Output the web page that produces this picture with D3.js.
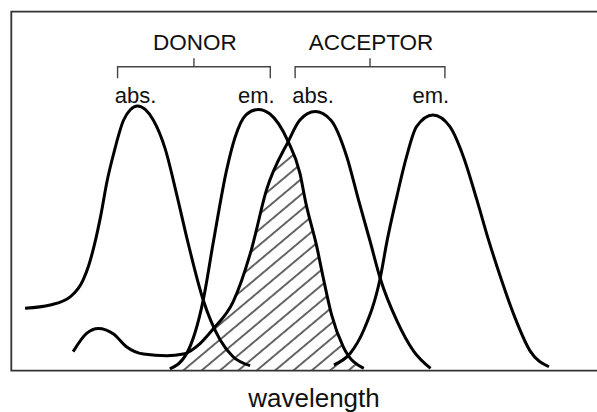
<!DOCTYPE html>
<html lang="en">
<head>
    <meta charset="utf-8">
    <title>FRET spectral overlap</title>
    <script src="https://d3js.org/d3.v7.min.js"></script>
    <style>
        body {
            margin: 0;
            background: #ffffff;
        }
        text {
            font-family: "Liberation Sans", Arial, sans-serif;
            fill: #111111;
        }
        .spectrum {
            fill: none;
            stroke: #000000;
            stroke-width: 3px;
        }
        .frame {
            stroke: #333333;
            stroke-width: 1.8px;
        }
        .bracket {
            fill: none;
            stroke: #444444;
            stroke-width: 1.4px;
        }
    </style>
</head>
<body>
    <svg id="chart" width="597" height="412"></svg>

    <script>
        // spectra: [wavelength (a.u., 0-100), relative intensity]
        const donorAbs = [
            [2.4, 0.229], [6.7, 0.241], [10.1, 0.271], [12.3, 0.333], [13.3, 0.39],
            [14.3, 0.47], [15.3, 0.57], [16.4, 0.70], [17.5, 0.80], [19.2, 0.925],
            [20.4, 0.965], [21.6, 0.978], [22.9, 0.965], [24.3, 0.925], [26.3, 0.820],
            [28.3, 0.648], [30.1, 0.481], [32.8, 0.259], [35.7, 0.111], [37.9, 0.049],
            [40.8, 0.016]
        ];
        const donorEm = [
            [27.1, 0.004], [30.0, 0.062], [32.8, 0.259], [34.5, 0.470], [36.8, 0.741],
            [38.2, 0.859], [40.1, 0.945], [42.2, 0.965], [44.2, 0.948], [47.3, 0.846],
            [49.3, 0.729], [50.3, 0.620], [52.2, 0.455], [53.3, 0.340], [54.7, 0.205],
            [56.7, 0.086], [60.2, 0.006]
        ];
        const acceptorAbs = [
            [10.6, 0.068], [12.9, 0.136], [14.9, 0.154], [17.5, 0.133], [19.7, 0.086],
            [22.6, 0.059], [26.6, 0.053], [29.4, 0.059], [32.3, 0.099], [34.5, 0.152],
            [37.9, 0.252], [41.0, 0.444], [43.6, 0.667], [47.3, 0.846], [49.3, 0.926],
            [51.9, 0.957], [54.6, 0.925], [57.3, 0.790], [59.3, 0.630], [61.3, 0.475],
            [63.0, 0.340], [65.9, 0.180], [68.7, 0.070], [71.6, 0.006]
        ];
        const acceptorEm = [
            [55.1, 0.019], [57.9, 0.062], [60.2, 0.148], [63.0, 0.340], [64.2, 0.481],
            [65.9, 0.648], [67.5, 0.790], [69.2, 0.901], [72.0, 0.944], [74.9, 0.901],
            [77.2, 0.790], [79.5, 0.630], [81.5, 0.481], [83.6, 0.340], [85.8, 0.205],
            [88.6, 0.070], [91.8, 0.012]
        ];

        const groupLabels = ["DONOR", "ACCEPTOR"];
        const bandLabels = ["abs.", "em."];
        const xLabel = "wavelength";

        const svg = d3.select("#chart");
        const x = d3.scaleLinear().domain([0, 100]).range([11, 597]);
        const y = d3.scaleLinear().domain([0, 1]).range([370, 100]);

        const smooth = d3.curveMonotoneX;
        const line = d3.line().x(d => x(d[0])).y(d => y(d[1])).curve(smooth);
        const area = d3.area().x(d => x(d[0])).y0(y(0)).y1(d => y(d[1])).curve(smooth);

        // hatch pattern for the overlap integral
        const defs = svg.append("defs");
        defs.append("pattern")
            .attr("id", "hatch")
            .attr("patternUnits", "userSpaceOnUse")
            .attr("width", 11.8)
            .attr("height", 12)
            .attr("patternTransform", "translate(193,370) rotate(50)")
            .append("line")
            .attr("x1", 5.9).attr("y1", -2)
            .attr("x2", 5.9).attr("y2", 14)
            .attr("stroke", "#000")
            .attr("stroke-width", 1.2);

        defs.append("clipPath")
            .attr("id", "donor-em-clip")
            .append("path")
            .attr("d", area(donorEm));

        svg.append("path")
            .attr("d", area(acceptorAbs))
            .attr("fill", "url(#hatch)")
            .attr("clip-path", "url(#donor-em-clip)");

        // spectra
        [donorAbs, donorEm, acceptorAbs, acceptorEm].forEach(s => {
            svg.append("path")
                .attr("class", "spectrum")
                .attr("d", line(s));
        });

        // frame (open on the right)
        svg.append("path")
            .attr("class", "frame")
            .attr("fill", "none")
            .attr("d", `M597,${11.7} H${11.3} V${370.7} H597`);

        // labels and brackets
        const peakOf = s => s.reduce((a, b) => (b[1] > a[1] ? b : a))[0];
        const groups = [
            { name: groupLabels[0], abs: peakOf(donorAbs), em: peakOf(donorEm) },
            { name: groupLabels[1], abs: peakOf(acceptorAbs), em: peakOf(acceptorEm) }
        ];

        groups.forEach(g => {
            const left = x(g.abs) - 20;
            const right = x(g.em) + 12;
            const mid = (left + right) / 2;

            svg.append("path")
                .attr("class", "bracket")
                .attr("d", `M${left},78.3 V66.7 H${right} V78.3 M${mid},66.7 V58.3`);

            svg.append("text")
                .attr("x", mid + 1)
                .attr("y", 50)
                .attr("text-anchor", "middle")
                .style("font-size", "22.5px")
                .text(g.name);

            [g.abs, g.em].forEach((w, i) => {
                svg.append("text")
                    .attr("x", x(w) - 2)
                    .attr("y", 103.3)
                    .attr("text-anchor", "middle")
                    .style("font-size", "22px")
                    .text(bandLabels[i]);
            });
        });

        svg.append("text")
            .attr("x", 314)
            .attr("y", 406.5)
            .attr("text-anchor", "middle")
            .style("font-size", "26px")
            .text(xLabel);
    </script>
</body>
</html>
